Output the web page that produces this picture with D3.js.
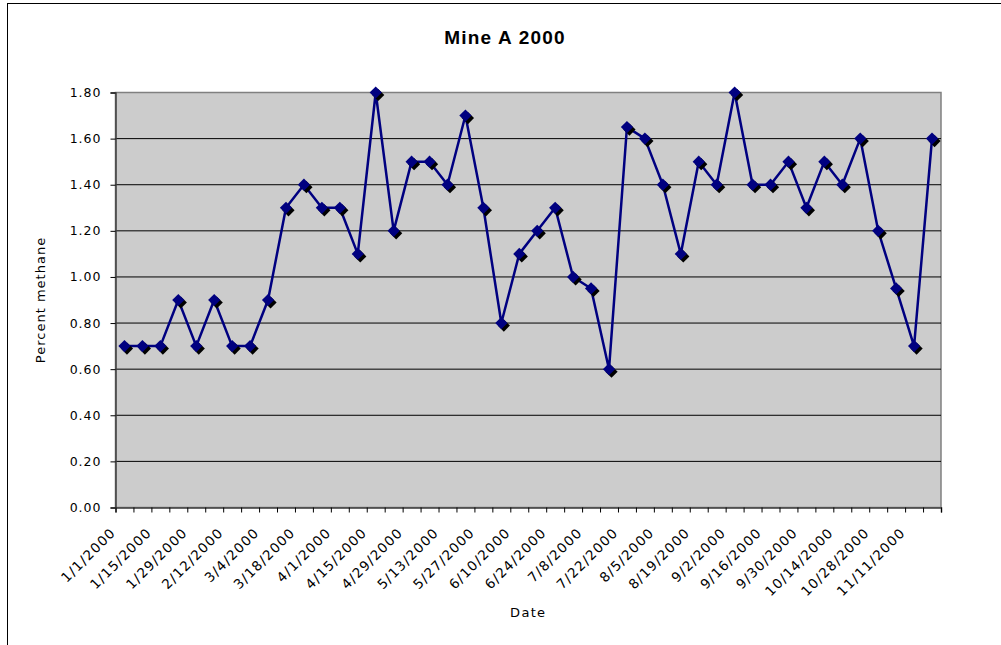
<!DOCTYPE html>
<html>
<head>
<meta charset="utf-8">
<script src="https://cdn.jsdelivr.net/npm/d3@7/dist/d3.min.js"></script>
<style>
  html, body { margin: 0; padding: 0; background: #fff; }
  svg { display: block; }
  text { font-family: "DejaVu Sans", Verdana, sans-serif; fill: #000; }
</style>
</head>
<body>
<svg id="chart" width="1001" height="645"></svg>
<script>
const title = "Mine A 2000";
const xTitle = "Date";
const yTitle = "Percent methane";

const dates = [
  "1/1/2000","1/8/2000","1/15/2000","1/22/2000","1/29/2000","2/5/2000",
  "2/12/2000","2/19/2000","3/4/2000","3/11/2000","3/18/2000","3/25/2000",
  "4/1/2000","4/8/2000","4/15/2000","4/22/2000","4/29/2000","5/6/2000",
  "5/13/2000","5/20/2000","5/27/2000","6/3/2000","6/10/2000","6/17/2000",
  "6/24/2000","7/1/2000","7/8/2000","7/15/2000","7/22/2000","7/29/2000",
  "8/5/2000","8/12/2000","8/19/2000","8/26/2000","9/2/2000","9/9/2000",
  "9/16/2000","9/23/2000","9/30/2000","10/7/2000","10/14/2000","10/21/2000",
  "10/28/2000","11/4/2000","11/11/2000","11/18/2000"
];
const methane = [
  0.70,0.70,0.70,0.90,0.70,0.90,
  0.70,0.70,0.90,1.30,1.40,1.30,
  1.30,1.10,1.80,1.20,1.50,1.50,
  1.40,1.70,1.30,0.80,1.10,1.20,
  1.30,1.00,0.95,0.60,1.65,1.60,
  1.40,1.10,1.50,1.40,1.80,1.40,
  1.40,1.50,1.30,1.50,1.40,1.60,
  1.20,0.95,0.70,1.60
];
const yTicks = [0,0.2,0.4,0.6,0.8,1.0,1.2,1.4,1.6,1.8];

const svg = d3.select("#chart");
const L = 115.5, R = 941, T = 92.5, B = 507.5;

// chart area border (top & left visible)
svg.append("rect").attr("x", 7.5).attr("y", 3.5).attr("width", 1100).attr("height", 700)
  .attr("fill", "#fff").attr("stroke", "#000").attr("stroke-width", 1);

const x = d3.scaleBand().domain(dates).range([L, R]).padding(0);
const xIdx = d3.scaleLinear().domain([0, dates.length]).range([L, R]);
const y = d3.scaleLinear().domain([0, 1.8]).range([B, T]);

// plot area
svg.append("rect").attr("x", L).attr("y", T).attr("width", R - L).attr("height", B - T)
  .attr("fill", "#cccccc").attr("stroke", "#808080").attr("stroke-width", 1.5);

// gridlines
svg.append("g").selectAll("line").data(yTicks.slice(1, -1)).join("line")
  .attr("x1", L).attr("x2", R).attr("y1", d => y(d)).attr("y2", d => y(d))
  .attr("stroke", "#000").attr("stroke-width", 1);

// y axis
const yAxis = svg.append("g").attr("transform", `translate(${L},0)`)
  .call(d3.axisLeft(y).tickValues(yTicks).tickFormat(d3.format(".2f")).tickSize(5).tickPadding(9));
yAxis.select(".domain").attr("stroke", "#404040").attr("stroke-width", 1.5);
yAxis.selectAll(".tick line").attr("stroke", "#000");
yAxis.selectAll(".tick text").style("font-size", "12.5px").style("letter-spacing", "1px")
  .style("font-family", '"DejaVu Sans", Verdana, sans-serif').attr("fill", "#000");

// x axis tick marks at category boundaries
const xTickAxis = svg.append("g").attr("transform", `translate(0,${B})`)
  .call(d3.axisBottom(xIdx).tickValues(d3.range(dates.length + 1)).tickFormat("").tickSize(5));
xTickAxis.select(".domain").attr("stroke", "#404040").attr("stroke-width", 1.5);
xTickAxis.selectAll(".tick line").attr("stroke", "#000");

// x axis labels every 2nd category
const xAxis = svg.append("g").attr("transform", `translate(0,${B})`)
  .call(d3.axisBottom(x).tickValues(dates.filter((d, i) => i % 2 === 0)).tickSize(0).tickPadding(0));
xAxis.select(".domain").remove();
xAxis.selectAll(".tick text")
  .attr("text-anchor", "end")
  .attr("y", 0).attr("dy", 0)
  .attr("transform", "translate(-8,26) rotate(-45)")
  .style("font-size", "13.5px").style("letter-spacing", "1.2px")
  .style("font-family", '"DejaVu Sans", Verdana, sans-serif').attr("fill", "#000");

// line
const cx = (d, i) => x(dates[i]) + x.bandwidth() / 2;
svg.append("path").datum(methane)
  .attr("d", d3.line().x((d, i) => cx(d, i)).y(d => y(d)))
  .attr("fill", "none").attr("stroke", "#000080").attr("stroke-width", 2.5)
  .attr("stroke-linejoin", "round");

// markers with shadow
const diamond = d3.symbol().type(d3.symbolDiamond2).size(95);
svg.append("g").selectAll("path").data(methane).join("path")
  .attr("d", diamond)
  .attr("transform", (d, i) => `translate(${cx(d, i) + 2.5},${y(d) + 2.5})`)
  .attr("fill", "#000");
svg.append("g").selectAll("path").data(methane).join("path")
  .attr("d", diamond)
  .attr("transform", (d, i) => `translate(${cx(d, i)},${y(d)})`)
  .attr("fill", "#000080");

// titles
svg.append("text").attr("x", 505).attr("y", 44).attr("text-anchor", "middle")
  .style("font-family", '"Liberation Sans", Arial, sans-serif')
  .style("font-weight", "bold").style("font-size", "19px").style("letter-spacing", "1.2px")
  .text(title);
svg.append("text").attr("x", (L + R) / 2).attr("y", 617).attr("text-anchor", "middle")
  .style("font-size", "13px").style("letter-spacing", "1.3px").text(xTitle);
svg.append("text").attr("transform", `translate(45,${(T + B) / 2}) rotate(-90)`).attr("text-anchor", "middle")
  .style("font-size", "13px").style("letter-spacing", "1px").text(yTitle);
</script>
</body>
</html>
